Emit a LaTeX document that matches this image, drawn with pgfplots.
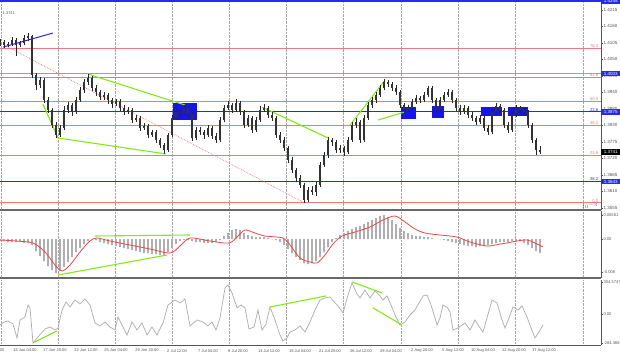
\documentclass[border=0pt]{standalone}
\usepackage{fontspec}
\setmainfont{Liberation Sans}
\usepackage{pgfplots}
\usepackage{pgfplotstable}
\pgfplotsset{compat=1.18}

\definecolor{fibred}{RGB}{240,120,120}
\definecolor{lvlblue}{RGB}{40,40,245}
\definecolor{lightblue}{RGB}{150,150,250}
\definecolor{boxblue}{RGB}{20,20,235}
\definecolor{grn}{RGB}{130,235,20}
\definecolor{lbl}{RGB}{85,85,85}
\definecolor{sep}{RGB}{105,105,105}
\definecolor{histgray}{RGB}{175,175,175}
\definecolor{ccigray}{RGB}{175,175,175}
\definecolor{sigred}{RGB}{240,70,70}

\pgfplotstableread{
x o h l c
0 1.4101 1.4118 1.4095 1.4108
4 1.4108 1.4115 1.4088 1.4098
8 1.4098 1.4108 1.4091 1.4101
12 1.4101 1.4125 1.4095 1.4115
16 1.4115 1.4121 1.4061 1.4098
20 1.4098 1.4111 1.4091 1.4105
24 1.4105 1.4131 1.4098 1.4121
28 1.4121 1.4138 1.4111 1.4128
32 1.4128 1.4131 1.3988 1.3998
36 1.3998 1.4005 1.3948 1.3965
40 1.3965 1.3991 1.3955 1.3981
44 1.3981 1.3988 1.3905 1.3915
48 1.3915 1.3925 1.3871 1.3881
52 1.3881 1.3888 1.3821 1.3831
56 1.3831 1.3841 1.3788 1.3798
60 1.3798 1.3831 1.3791 1.3821
64 1.3821 1.3895 1.3815 1.3881
68 1.3881 1.3908 1.3871 1.3898
72 1.3898 1.3905 1.3861 1.3875
76 1.3875 1.3925 1.3868 1.3915
80 1.3915 1.3958 1.3908 1.3948
84 1.3948 1.3985 1.3938 1.3975
88 1.3975 1.4001 1.3965 1.3988
92 1.3988 1.3995 1.3945 1.3955
96 1.3955 1.3965 1.3928 1.3941
100 1.3941 1.3948 1.3915 1.3925
104 1.3925 1.3941 1.3915 1.3931
108 1.3931 1.3938 1.3901 1.3915
112 1.3915 1.3921 1.3888 1.3901
116 1.3901 1.3918 1.3895 1.3911
120 1.3911 1.3918 1.3878 1.3888
124 1.3888 1.3898 1.3865 1.3875
128 1.3875 1.3891 1.3868 1.3881
132 1.3881 1.3888 1.3838 1.3848
136 1.3848 1.3865 1.3841 1.3855
140 1.3855 1.3861 1.3811 1.3821
144 1.3821 1.3838 1.3815 1.3828
148 1.3828 1.3835 1.3788 1.3798
152 1.3798 1.3815 1.3791 1.3808
156 1.3808 1.3815 1.3771 1.3781
160 1.3781 1.3788 1.3755 1.3765
164 1.3765 1.3771 1.3735 1.3748
168 1.3748 1.3805 1.3741 1.3798
172 1.3798 1.3865 1.3791 1.3855
176 1.3855 1.3888 1.3848 1.3875
180 1.3875 1.3885 1.3861 1.3871
184 1.3871 1.3898 1.3865 1.3888
188 1.3888 1.3895 1.3858 1.3868
192 1.3868 1.3875 1.3778 1.3788
196 1.3788 1.3825 1.3781 1.3815
200 1.3815 1.3825 1.3798 1.3808
204 1.3808 1.3815 1.3785 1.3798
208 1.3798 1.3831 1.3791 1.3821
212 1.3821 1.3828 1.3785 1.3795
216 1.3795 1.3805 1.3771 1.3781
220 1.3781 1.3858 1.3775 1.3848
224 1.3848 1.3898 1.3841 1.3888
228 1.3888 1.3911 1.3881 1.3898
232 1.3898 1.3905 1.3871 1.3881
236 1.3881 1.3918 1.3875 1.3905
240 1.3905 1.3911 1.3865 1.3875
244 1.3875 1.3881 1.3821 1.3831
248 1.3831 1.3865 1.3825 1.3855
252 1.3855 1.3861 1.3805 1.3815
256 1.3815 1.3858 1.3808 1.3848
260 1.3848 1.3895 1.3841 1.3881
264 1.3881 1.3901 1.3875 1.3888
268 1.3888 1.3895 1.3855 1.3865
272 1.3865 1.3875 1.3845 1.3855
276 1.3855 1.3861 1.3788 1.3798
280 1.3798 1.3808 1.3771 1.3781
284 1.3781 1.3791 1.3745 1.3755
288 1.3755 1.3761 1.3705 1.3715
292 1.3715 1.3725 1.3671 1.3681
296 1.3681 1.3688 1.3641 1.3655
300 1.3655 1.3665 1.3621 1.3631
304 1.3631 1.3638 1.3571 1.3581
308 1.3581 1.3625 1.3575 1.3615
312 1.3615 1.3628 1.3598 1.3608
316 1.3608 1.3641 1.3595 1.3631
320 1.3631 1.3708 1.3625 1.3698
324 1.3698 1.3741 1.3691 1.3731
328 1.3731 1.3791 1.3721 1.3781
332 1.3781 1.3788 1.3761 1.3775
336 1.3775 1.3781 1.3738 1.3748
340 1.3748 1.3765 1.3738 1.3755
344 1.3755 1.3761 1.3728 1.3741
348 1.3741 1.3791 1.3735 1.3781
352 1.3781 1.3841 1.3775 1.3831
356 1.3831 1.3855 1.3821 1.3841
360 1.3841 1.3848 1.3771 1.3781
364 1.3781 1.3865 1.3775 1.3855
368 1.3855 1.3908 1.3848 1.3898
372 1.3898 1.3925 1.3888 1.3915
376 1.3915 1.3941 1.3905 1.3931
380 1.3931 1.3965 1.3925 1.3955
384 1.3955 1.3985 1.3948 1.3975
388 1.3975 1.3981 1.3958 1.3968
392 1.3968 1.3975 1.3945 1.3955
396 1.3955 1.3965 1.3931 1.3941
400 1.3941 1.3948 1.3888 1.3898
404 1.3898 1.3905 1.3871 1.3881
408 1.3881 1.3898 1.3875 1.3888
412 1.3888 1.3918 1.3881 1.3908
416 1.3908 1.3931 1.3901 1.3921
420 1.3921 1.3928 1.3905 1.3915
424 1.3915 1.3941 1.3908 1.3931
428 1.3931 1.3961 1.3925 1.3955
432 1.3955 1.3961 1.3905 1.3915
436 1.3915 1.3921 1.3871 1.3881
440 1.3881 1.3925 1.3875 1.3915
444 1.3915 1.3941 1.3908 1.3931
448 1.3931 1.3951 1.3925 1.3941
452 1.3941 1.3948 1.3905 1.3915
456 1.3915 1.3921 1.3878 1.3888
460 1.3888 1.3898 1.3865 1.3875
464 1.3875 1.3898 1.3868 1.3888
468 1.3888 1.3895 1.3855 1.3865
472 1.3865 1.3875 1.3845 1.3855
476 1.3855 1.3861 1.3831 1.3841
480 1.3841 1.3865 1.3835 1.3855
484 1.3855 1.3861 1.3811 1.3821
488 1.3821 1.3831 1.3798 1.3808
492 1.3808 1.3885 1.3801 1.3875
496 1.3875 1.3905 1.3868 1.3895
500 1.3895 1.3901 1.3871 1.3881
504 1.3881 1.3888 1.3821 1.3831
508 1.3831 1.3841 1.3805 1.3815
512 1.3815 1.3875 1.3808 1.3865
516 1.3865 1.3898 1.3858 1.3888
520 1.3888 1.3895 1.3871 1.3881
524 1.3881 1.3891 1.3865 1.3875
528 1.3875 1.3881 1.3821 1.3831
532 1.3831 1.3838 1.3771 1.3781
536 1.3781 1.3788 1.3731 1.3748
540 1.3748 1.3761 1.3735 1.3741
}\candles

\pgfplotstableread{
x v
0 -0.00048
4 -0.00048
8 -0.00072
12 -0.00072
16 -0.00072
20 -0.00072
24 -0.00096
28 -0.00096
32 -0.00144
36 -0.00288
40 -0.00408
44 -0.00528
48 -0.00648
52 -0.00744
56 -0.00816
60 -0.00768
64 -0.00672
68 -0.00552
72 -0.00432
76 -0.00312
80 -0.00216
84 -0.0012
88 -0.00048
92 0.0
96 -0.00024
100 -0.00072
104 -0.00096
108 -0.0012
112 -0.00144
116 -0.00168
120 -0.00192
124 -0.00216
128 -0.0024
132 -0.00264
136 -0.00288
140 -0.00312
144 -0.00336
148 -0.00336
152 -0.0036
156 -0.0036
160 -0.00384
164 -0.00384
168 -0.00312
172 -0.00216
176 -0.0012
180 -0.00048
184 -0.00024
188 -0.00024
192 -0.00048
196 -0.00072
200 -0.00072
204 -0.00096
208 -0.00096
212 -0.00096
216 -0.00072
220 -0.00024
224 0.00072
228 0.00144
232 0.00216
236 0.0024
240 0.00216
244 0.00144
248 0.00096
252 0.00072
256 0.00048
260 0.00048
264 0.00048
268 0.00024
272 0.0
276 -0.00024
280 -0.00072
284 -0.00144
288 -0.0024
292 -0.00336
296 -0.00432
300 -0.00504
304 -0.00576
308 -0.006
312 -0.00576
316 -0.00528
320 -0.00432
324 -0.00312
328 -0.00192
332 -0.00072
336 0.00024
340 0.00096
344 0.00144
348 0.00192
352 0.0024
356 0.00288
360 0.00312
364 0.0036
368 0.00408
372 0.00456
376 0.00504
380 0.00552
384 0.00576
388 0.00528
392 0.00456
396 0.0036
400 0.00264
404 0.00192
408 0.00144
412 0.00096
416 0.00072
420 0.00072
424 0.00048
428 0.00048
432 0.00024
436 0.0
440 0.0
444 -0.00024
448 -0.00048
452 -0.00072
456 -0.00096
460 -0.0012
464 -0.00144
468 -0.00168
472 -0.00168
476 -0.00192
480 -0.00168
484 -0.00168
488 -0.00144
492 -0.0012
496 -0.00096
500 -0.00072
504 -0.00072
508 -0.00072
512 -0.00048
516 -0.00048
520 -0.00048
524 -0.00096
528 -0.00144
532 -0.00216
536 -0.00288
540 -0.00336
}\hist

\pgfplotstableread{
x v
0 -0.00024
16 -0.00048
33 -0.00096
45 -0.00312
55 -0.00624
62 -0.00768
70 -0.00624
80 -0.00312
90 -0.00048
97 0.00024
110 -0.00048
130 -0.00144
150 -0.0024
170 -0.00336
180 -0.00168
190 0.00024
210 -0.00048
229 -0.00096
238 0.00072
245 0.00216
255 0.00144
265 0.00072
283 0.00024
290 -0.00144
300 -0.00456
310 -0.00552
317 -0.00576
325 -0.00384
333 -0.0012
342 0.00072
355 0.00168
370 0.00288
383 0.00456
395 0.00552
405 0.00408
415 0.0024
425 0.00144
440 0.00096
457 0.00048
470 -0.00072
487 -0.00168
500 -0.0012
507 -0.00096
517 -0.00048
527 -0.00024
535 -0.00096
543 -0.00192
}\signal

\pgfplotstableread{
x v
0 -106
4 -77
8 -67
13 -96
17 -230
20 -58
25 -29
28 86
30 58
33 -278
38 -221
45 -144
50 -125
55 -154
58 -134
62 38
66 115
70 67
75 134
80 96
85 144
90 86
95 -86
100 -115
105 -77
110 -125
115 -154
118 -29
122 -106
127 -202
132 -77
137 -154
142 -86
147 -202
152 -125
157 -202
163 -86
168 86
175 134
180 106
185 144
190 -115
197 -58
203 -77
208 -115
212 -77
216 -154
220 -38
225 250
228 278
232 202
237 58
241 86
245 58
249 -144
254 -125
258 38
262 -154
266 -96
270 67
275 -58
280 -202
283 -259
287 -230
290 -173
295 -154
300 -115
305 -173
310 -77
315 38
320 134
325 154
330 163
334 115
338 77
343 10
348 182
352 298
357 192
360 154
365 230
370 154
375 221
380 173
383 134
387 173
391 86
395 -10
400 -106
405 -77
410 -10
415 38
419 106
423 173
427 182
431 86
435 -38
437 -106
440 -38
443 86
447 67
450 19
453 -154
458 -134
465 -86
470 -154
475 -58
480 -134
483 -173
487 -38
492 134
497 106
502 -58
505 -134
509 -38
513 67
518 38
522 77
527 -29
531 -134
535 -230
539 -173
543 -106
}\cci

\tikzset{
  lbox/.style={anchor=west, fill=lvlblue, text=white, font=\fontsize{4.5}{5}\selectfont,
    inner sep=0.4pt, minimum width=19pt, minimum height=5.6pt},
  flab/.style={anchor=south east, text=fibred, font=\fontsize{4.2}{5}\selectfont, inner sep=0.5pt},
  lvl/.style={fibred, line width=0.85pt},
}

\begin{document}
\begin{tikzpicture}
\useasboundingbox (0pt,0pt) rectangle (620pt,357pt);
\pgfplotsset{
  panel/.style={
    scale only axis, width=601pt, xmin=0, xmax=601,
    axis x line*=bottom, axis y line*=right,
    xtick={1,58,115,172,229,286,343,401,458,515,583}, xticklabels={},
    xmajorgrids, major grid style={gray!70, densely dotted, line width=0.4pt},
    xtick style={draw=none},
    ytick style={draw=lbl, line width=0.4pt},
    major tick length=1.5pt, tick align=outside,
    yticklabel style={font=\fontsize{4.5}{5}\selectfont, text=lbl, inner sep=0.8pt},
    y axis line style={-, lbl, line width=0.5pt},
    x axis line style={-, sep, line width=1.6pt},
    clip=true,
  },
}

% ---------------- main price panel ----------------
\begin{axis}[panel, at={(0pt,147pt)}, anchor=south west, height=210pt,
  ymin=1.3548, ymax=1.4248,
  ytick={1.3555,1.3610,1.3665,1.3720,1.3775,1.3830,1.3885,1.3940,1.3995,1.4050,1.4105,1.4160,1.4215},
  yticklabels={1.3555,1.3610,1.3665,1.3720,1.3775,1.3830,1.3885,1.3940,1.3995,1.4050,1.4105,1.4160,1.4215},
]
% blue levels
\addplot[lvlblue, line width=1.6pt] coordinates {(0,1.4245) (601,1.4245)};
\addplot[lightblue, line width=1.7pt] coordinates {(0,1.4003) (601,1.4003)};
\addplot[lvlblue, line width=1.1pt] coordinates {(0,1.3875) (601,1.3875)};
\addplot[lvlblue, line width=1.1pt] coordinates {(0,1.3643) (601,1.3643)};
% Fibonacci levels
\addplot[lvl] coordinates {(0,1.4088) (601,1.4088)};
\addplot[lvl] coordinates {(0,1.3990) (601,1.3990)};
\addplot[lvl] coordinates {(0,1.3910) (601,1.3910)};
\addplot[lvl] coordinates {(0,1.3830) (601,1.3830)};
\addplot[lvl] coordinates {(0,1.3731) (601,1.3731)};
\addplot[lvl] coordinates {(0,1.3572) (601,1.3572)};
% blue boxes
\addplot[fill=boxblue, draw=none] coordinates {(173,1.3848) (197,1.3848) (197,1.3905) (173,1.3905)} -- cycle;
\addplot[fill=boxblue, draw=none] coordinates {(401,1.3851) (416,1.3851) (416,1.3891) (401,1.3891)} -- cycle;
\addplot[fill=boxblue, draw=none] coordinates {(432,1.3855) (444,1.3855) (444,1.3895) (432,1.3895)} -- cycle;
\addplot[fill=boxblue, draw=none] coordinates {(481,1.3861) (502,1.3861) (502,1.3891) (481,1.3891)} -- cycle;
\addplot[fill=boxblue, draw=none] coordinates {(508,1.3861) (528,1.3861) (528,1.3891) (508,1.3891)} -- cycle;
% fibo trend line (dotted)
\addplot[fibred, densely dotted, line width=0.7pt] coordinates {(8,1.4091) (305,1.3571)};
% blue trend line
\addplot[lvlblue, line width=1pt] coordinates {(3,1.4091) (53,1.4138)};
% green divergence lines
\addplot[grn, line width=1.1pt] coordinates {(43,1.3901) (58,1.3788) (166,1.3735)};
\addplot[grn, line width=1.1pt] coordinates {(88,1.4001) (185,1.3898)};
\addplot[grn, line width=1.1pt] coordinates {(262,1.3891) (328,1.3788)};
\addplot[grn, line width=1.1pt] coordinates {(350,1.3831) (385,1.3981)};
\addplot[grn, line width=1.1pt] coordinates {(378,1.3848) (405,1.3875)};
% candles: wicks
\addplot[draw=none, mark=none, forget plot,
  error bars/.cd, y dir=plus, y explicit, error mark=none,
  error bar style={draw=black!85, line width=0.45pt}]
  table[x=x, y=l, y error plus expr=\thisrow{h}-\thisrow{l}] {\candles};
% candles: bodies
\addplot[draw=none, mark=none, forget plot,
  error bars/.cd, y dir=plus, y explicit, error mark=none,
  error bar style={draw=black!80, line width=2.3pt}]
  table[x=x, y expr={min(\thisrow{o},\thisrow{c})}, y error plus expr={abs(\thisrow{c}-\thisrow{o})}] {\candles};
\coordinate (B1) at (axis cs:601,1.4245);
\coordinate (B2) at (axis cs:601,1.4003);
\coordinate (B3) at (axis cs:601,1.3875);
\coordinate (B4) at (axis cs:601,1.3643);
\coordinate (B5) at (axis cs:601,1.3741);
\coordinate (F1) at (axis cs:599,1.4088);
\coordinate (F2) at (axis cs:599,1.3990);
\coordinate (F3) at (axis cs:599,1.3910);
\coordinate (F4) at (axis cs:599,1.3830);
\coordinate (F5) at (axis cs:599,1.3731);
\coordinate (F6) at (axis cs:599,1.3572);
\coordinate (G1) at (axis cs:599,1.3875);
\coordinate (G2) at (axis cs:599,1.3643);
\coordinate (TL) at (axis cs:2,1.4204);
\end{axis}

% ---------------- MACD panel ----------------
\begin{axis}[panel, at={(0pt,79pt)}, anchor=south west, height=67pt,
  ymin=-0.00936, ymax=0.00672,
  ytick={-0.008,0,0.00581}, yticklabels={-0.008,0.00,0.00581},
  yticklabel style={font=\fontsize{4.1}{5}\selectfont},
]
\addplot[ybar, bar width=1.6pt, fill=histgray, draw=none] table[x=x, y=v] {\hist};
\addplot[sigred, line width=0.8pt, smooth, tension=0.5] table[x=x, y=v] {\signal};
\addplot[grn, line width=1.1pt] coordinates {(95,0.00072) (190,0.00096)};
\addplot[grn, line width=1.1pt] coordinates {(58,-0.00864) (167,-0.00384)};
\end{axis}

% ---------------- CCI panel ----------------
\begin{axis}[panel, at={(0pt,12pt)}, anchor=south west, height=65pt,
  ymin=-298, ymax=326,
  ytick={-284.368,0,304.3747}, yticklabels={-284.368,0.00,304.3747},
  yticklabel style={font=\fontsize{4.1}{5}\selectfont},
  x axis line style={-, lbl, line width=0.5pt},
  extra x ticks={25,55,86,116,147,177,208,238,269,300,330,361,391,422,453,483,514,544},
  extra x tick labels={15 Jun 04:00,17 Jun 20:00,22 Jun 12:00,25 Jun 04:00,29 Jun 20:00,2 Jul 12:00,7 Jul 04:00,9 Jul 20:00,14 Jul 12:00,19 Jul 04:00,21 Jul 20:00,26 Jul 12:00,29 Jul 04:00,2 Aug 20:00,5 Aug 12:00,10 Aug 04:00,12 Aug 20:00,17 Aug 12:00},
  extra x tick style={grid=none, xticklabel style={font=\fontsize{4}{4.5}\selectfont, text=lbl, inner sep=1pt, yshift=-1.5pt}},
]
\addplot[ccigray, line width=0.75pt] table[x=x, y=v] {\cci};
\addplot[grn, line width=1.1pt] coordinates {(33,-278) (57,-163)};
\addplot[grn, line width=1.1pt] coordinates {(270,67) (326,173)};
\addplot[grn, line width=1.1pt] coordinates {(352,307) (382,202)};
\addplot[grn, line width=1.1pt] coordinates {(373,58) (402,-106)};
\coordinate (X0) at (axis cs:0,-298);
\end{axis}

% labels on the price scale
\node[lbox] at (B1) {1.4245};
\node[lbox] at (B2) {1.4003};
\node[lbox] at (B3) {1.3875};
\node[lbox] at (B4) {1.3643};
\node[lbox, fill=black] at (B5) {1.3741};
\node[flab] at (F1) {76.4};
\node[flab] at (F2) {61.8};
\node[flab] at (F3) {50.0};
\node[flab] at (F4) {38.2};
\node[flab] at (F5) {23.6};
\node[flab] at (F6) {0.0};
\node[flab, text=lvlblue] at (G1) {23.6};
\node[flab, text=lvlblue] at (G2) {38.2};
\node[anchor=west, text=lbl, font=\fontsize{4}{5}\selectfont, inner sep=0.5pt] at (TL) {1.3741};
\node[anchor=north east, text=lbl, font=\fontsize{4}{4.5}\selectfont, inner sep=1pt] at ([xshift=5.5pt,yshift=-2.3pt]X0) {12 Jun 12:00};
\end{tikzpicture}
\end{document}
